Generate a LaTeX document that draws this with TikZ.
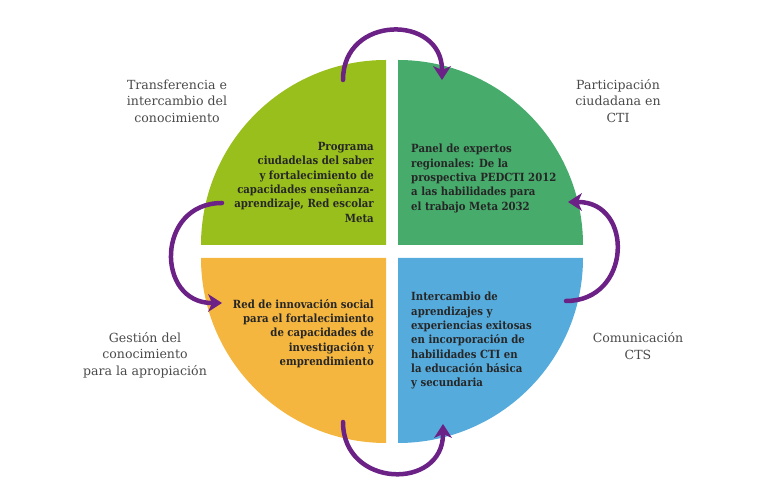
\documentclass[tikz,border=0pt]{standalone}
\usepackage{fontspec}
\setmainfont{DejaVu Serif}
\newfontfamily\innerfont{DejaVu Serif Condensed}
\usepackage{xcolor}
\usetikzlibrary{arrows.meta}

\definecolor{lime}{HTML}{99BF1C}
\definecolor{leaf}{HTML}{46AB6B}
\definecolor{sun}{HTML}{F5B63F}
\definecolor{sky}{HTML}{56ABDD}
\definecolor{plum}{HTML}{6B2185}
\definecolor{ink}{HTML}{262626}
\definecolor{soft}{HTML}{4A4A4A}

\begin{document}
\begin{tikzpicture}[x=1bp, y=1bp,
    inner/.style={inner sep=0pt, text=ink, font=\innerfont\bfseries\fontsize{11.3}{14.4}\selectfont},
    outer/.style={inner sep=0pt, text=soft, align=center, font=\fontsize{12.6}{16.6}\selectfont},
    flow/.style={draw=plum, line width=4.5bp, line cap=round, looseness=1.7,
        -{Stealth[length=14bp, width=18bp, inset=4bp, line width=0pt]}}]
            \useasboundingbox (0,0) rectangle (768,502);

            % quadrants
            \fill[lime] (386,257) -- (201,257) arc[start angle=180, end angle=90, radius=185] -- cycle;
            \fill[leaf] (398,257) -- (398,442) arc[start angle=90, end angle=0, radius=185] -- cycle;
            \fill[sun] (386,244) -- (386,59) arc[start angle=270, end angle=180, radius=185] -- cycle;
            \fill[sky] (398,244) -- (583,244) arc[start angle=0, end angle=-90, radius=185] -- cycle;

            \node[inner, anchor=north east, align=right] (tl) at (374,360)
                {Programa\\ ciudadelas del saber\\ y fortalecimiento de\\ capacidades enseñanza-\\ aprendizaje, Red escolar\\ Meta};
            \node[inner, anchor=north west, align=left] (tr) at (411,358)
                {Panel de expertos\\ regionales: De la\\ prospectiva PEDCTI 2012\\ a las habilidades para\\ el trabajo Meta 2032};
            \node[inner, anchor=north east, align=right] (bl) at (374,203)
                {Red de innovación social\\ para el fortalecimiento\\ de capacidades de\\ investigación y\\ emprendimiento};
            \node[inner, anchor=north west, align=left] (br) at (411,210)
                {Intercambio de\\ aprendizajes y\\ experiencias exitosas\\ en incorporación de\\ habilidades CTI en\\ la educación básica\\ y secundaria};

            \node[outer] (tlname) at (177,401) {Transferencia e\\ intercambio del\\ conocimiento};
            \node[outer] (trname) at (618,401) {Participación\\ ciudadana en\\ CTI};
            \node[outer] (blname) at (145,147) {Gestión del\\ conocimiento\\ para la apropiación};
            \node[outer] (brname) at (638,156) {Comunicación\\ CTS};

            % arrow ends
            \coordinate (tlup) at (343,422);
            \coordinate (trup) at (442,422);
            \coordinate (trside) at (568,300);
            \coordinate (brside) at (566,201);
            \coordinate (brdown) at (443,78);
            \coordinate (bldown) at (343,80);
            \coordinate (blside) at (222,199);
            \coordinate (tlside) at (222,299);

            \draw[flow] (tlup) to[out=90, in=90] (trup);
            \draw[flow] (brside) to[out=0, in=0] (trside);
            \draw[flow] (bldown) to[out=-90, in=-90] (brdown);
            \draw[flow] (tlside) to[out=180, in=180] (blside);
        \end{tikzpicture}
\end{document}
